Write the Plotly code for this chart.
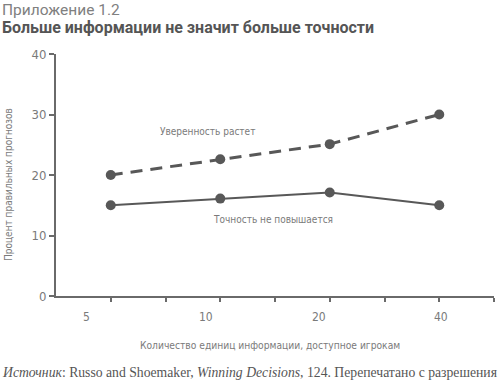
import plotly.graph_objects as go

# Data
positions = [1, 3, 5, 7]                 # slots of the four info levels on the x scale
info_units = ["5", "10", "20", "40"]     # tick labels
label_positions = [0.55, 2.74, 4.8, 7.03]
confidence = [20, 22.6, 25.1, 30]
accuracy = [15, 16.1, 17.1, 15]

COND = "DejaVu Sans Condensed, Liberation Sans Narrow, sans-serif"
LINE = "#585858"
AX = "#6a6a6a"
TXT = "#7a7a7a"

L, R, T, B = 56, 6, 54, 88
W, H = 500, 384
PW, PH = W - L - R, H - T - B


def px(xp):
    return (xp - L) / PW


def py(yp):
    return (H - B - yp) / PH


fig = go.Figure()
fig.add_trace(go.Scatter(x=positions, y=confidence, mode="lines+markers",
                         line=dict(color=LINE, width=3, dash="12px,8px"),
                         marker=dict(color=LINE, size=10), showlegend=False))
fig.add_trace(go.Scatter(x=positions, y=accuracy, mode="lines+markers",
                         line=dict(color=LINE, width=2),
                         marker=dict(color=LINE, size=10), showlegend=False))

fig.update_layout(
    width=W, height=H,
    margin=dict(l=L, r=R, t=T, b=B),
    paper_bgcolor="white", plot_bgcolor="white",
    font=dict(family=COND, color=TXT, size=12),
    xaxis=dict(range=[0, 8], tickvals=list(range(1, 9)), ticktext=[""] * 8,
               ticks="outside", ticklen=4, tickcolor=AX, tickwidth=1.5,
               showline=True, linecolor=AX, linewidth=2, showgrid=False,
               zeroline=False, fixedrange=True),
    yaxis=dict(range=[0, 40], tickvals=[0, 10, 20, 30, 40],
               ticks="outside", ticklen=5, tickcolor=AX, tickwidth=1.5,
               showline=True, linecolor=AX, linewidth=2, showgrid=False,
               zeroline=False, tickfont=dict(size=13, color=TXT, family=COND),
               fixedrange=True),
)

annotations = []
for lp, lab in zip(label_positions, info_units):
    annotations.append(dict(x=lp, y=py(317), xref="x", yref="paper", text=lab,
                            yanchor="middle", showarrow=False,
                            font=dict(size=12, color=TXT)))

annotations += [
    dict(x=px(270), y=py(345), xref="paper", yref="paper",
         text="Количество единиц информации, доступное игрокам", showarrow=False,
         font=dict(size=10.2, color=TXT), yanchor="middle"),
    dict(x=px(8), y=py(185), xref="paper", yref="paper",
         text="Процент правильных прогнозов", showarrow=False, textangle=-90,
         font=dict(size=10, color=TXT), xanchor="center", yanchor="middle"),
    dict(x=px(0), y=py(10), xref="paper", yref="paper", xanchor="left",
         yanchor="middle", text="Приложение 1.2", showarrow=False,
         font=dict(family="Roboto, sans-serif", size=15.5, color="#808080")),
    dict(x=px(0), y=py(28), xref="paper", yref="paper", xanchor="left",
         yanchor="middle", text="<b>Больше информации не значит больше точности</b>",
         showarrow=False, font=dict(family="Roboto, sans-serif", size=16, color="#555555")),
    dict(x=px(0), y=py(372), xref="paper", yref="paper", xanchor="left",
         yanchor="middle",
         text="<i>Источник</i>: Russo and Shoemaker, <i>Winning Decisions</i>, 124. Перепечатано с разрешения",
         showarrow=False, font=dict(family="Liberation Serif, serif", size=13.7, color="#555555")),
    dict(x=px(207), y=py(131), xref="paper", yref="paper",
         text="Уверенность растет", showarrow=False,
         font=dict(size=10, color=TXT), yanchor="middle"),
    dict(x=px(273), y=py(219), xref="paper", yref="paper",
         text="Точность не повышается", showarrow=False,
         font=dict(size=10, color=TXT), yanchor="middle"),
]
fig.update_layout(annotations=annotations)

fig.write_html("out.html", config={"displayModeBar": False},
               post_script="document.body.style.margin='0';document.body.style.padding='0';")
